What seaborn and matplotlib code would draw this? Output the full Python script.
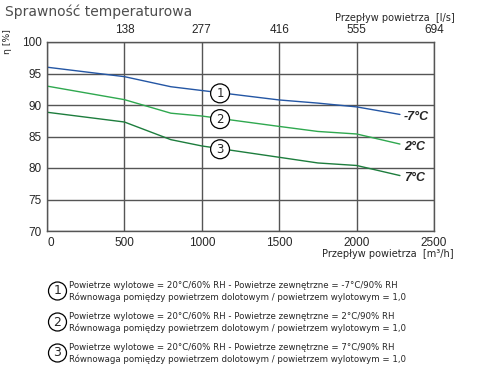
import numpy as np
import pandas as pd
import matplotlib
matplotlib.use("Agg")
import matplotlib.pyplot as plt
import seaborn as sns

# air flow [m3/h] and efficiency [%]
flow = [0, 500, 800, 1000, 1500, 1750, 2000, 2280]
eff_m7 = [96.0, 94.5, 92.9, 92.3, 90.8, 90.3, 89.7, 88.5]
eff_2 = [93.0, 90.85, 88.7, 88.25, 86.6, 85.8, 85.4, 83.8]
eff_7 = [88.85, 87.3, 84.5, 83.5, 81.7, 80.8, 80.4, 78.8]

series_names = ["-7°C", "2°C", "7°C"]
series_colors = ["#2456a4", "#2fa84f", "#1d7d3d"]

x_ticks = [0, 500, 1000, 1500, 2000, 2500]
top_tick_labels = ["", "138", "277", "416", "555", "694"]
y_ticks = [70, 75, 80, 85, 90, 95, 100]

legend_lines = [
    ("Powietrze wylotowe = 20°C/60% RH - Powietrze zewnętrzne = -7°C/90% RH",
     "Równowaga pomiędzy powietrzem dolotowym / powietrzem wylotowym = 1,0"),
    ("Powietrze wylotowe = 20°C/60% RH - Powietrze zewnętrzne = 2°C/90% RH",
     "Równowaga pomiędzy powietrzem dolotowym / powietrzem wylotowym = 1,0"),
    ("Powietrze wylotowe = 20°C/60% RH - Powietrze zewnętrzne = 7°C/90% RH",
     "Równowaga pomiędzy powietrzem dolotowym / powietrzem wylotowym = 1,0"),
]

df = pd.DataFrame({
    "flow": flow * 3,
    "eff": eff_m7 + eff_2 + eff_7,
    "series": [n for n in series_names for _ in flow],
})

sns.set_style("white")
plt.rcParams["font.family"] = ["DejaVu Sans", "Noto Sans CJK SC"]

fig = plt.figure(figsize=(4.8, 3.8), dpi=100)
ax = fig.add_axes([47 / 480, 1 - 231 / 380, 387 / 480, 189 / 380])

grid_c = "#555555"
sns.lineplot(data=df, x="flow", y="eff", hue="series", palette=series_colors,
             hue_order=series_names, legend=False, linewidth=1.0, ax=ax)

ax.set_xlim(0, 2500)
ax.set_ylim(70, 100)
ax.set_xticks(x_ticks)
ax.set_yticks(y_ticks)
ax.grid(True, color=grid_c, linewidth=1.0)
ax.set_axisbelow(True)
for s in ax.spines.values():
    s.set_color(grid_c)
    s.set_linewidth(1.0)
ax.tick_params(length=0, labelsize=8.5, pad=4)
for lab in ax.get_xticklabels() + ax.get_yticklabels():
    lab.set_family("Liberation Sans")
ax.get_xticklabels()[0].set_horizontalalignment("left")
ax.set_xlabel("")
ax.set_ylabel("")

top = ax.twiny()
top.set_xlim(ax.get_xlim())
top.set_xticks(x_ticks)
top.set_xticklabels(top_tick_labels, family="Liberation Sans")
top.tick_params(length=0, labelsize=8.5, pad=4)
for s in top.spines.values():
    s.set_visible(False)

# circled numbers on the curves
circ_x = 1118
for i, vals in enumerate([eff_m7, eff_2, eff_7]):
    yv = np.interp(circ_x, flow, vals) - 0.1
    ax.text(circ_x, yv, str(i + 1), fontsize=8.5, ha="center", va="center",
            bbox=dict(boxstyle="circle,pad=0.25", fc="white", ec="black", lw=0.9),
            zorder=5)

# end labels
for name, vals in zip(series_names, [eff_m7, eff_2, eff_7]):
    ax.annotate(name, (flow[-1], vals[-1]), xytext=(3, -2), textcoords="offset points",
                fontsize=9, fontweight="bold", style="italic", family="Liberation Sans",
                ha="left", va="center")

fig.text(5 / 480, 1 - 12 / 380, "Sprawność temperaturowa", fontsize=10,
         color="#4d4d4d", ha="left", va="center")
fig.text(455 / 480, 1 - 18 / 380, "Przepływ powietrza  [l/s]", fontsize=7.0,
         ha="right", va="center")
fig.text(454 / 480, 1 - 254 / 380, "Przepływ powietrza  [m³/h]", fontsize=7.0,
         ha="right", va="center")
fig.text(8 / 480, 1 - 42 / 380, "η [%]", fontsize=6.7, rotation=90,
         ha="center", va="center")

# legend block
for i, (l1, l2) in enumerate(legend_lines):
    yc = 291 + i * 31
    fig.text(57.5 / 480, 1 - yc / 380, str(i + 1), fontsize=9, ha="center", va="center",
             bbox=dict(boxstyle="circle,pad=0.2", fc="white", ec="black", lw=0.9))
    fig.text(69 / 480, 1 - (yc - 5.5) / 380, l1, fontsize=6.2, ha="left", va="center")
    fig.text(69 / 480, 1 - (yc + 6.5) / 380, l2, fontsize=6.2, ha="left", va="center")

fig.savefig("out.png", dpi=100)
